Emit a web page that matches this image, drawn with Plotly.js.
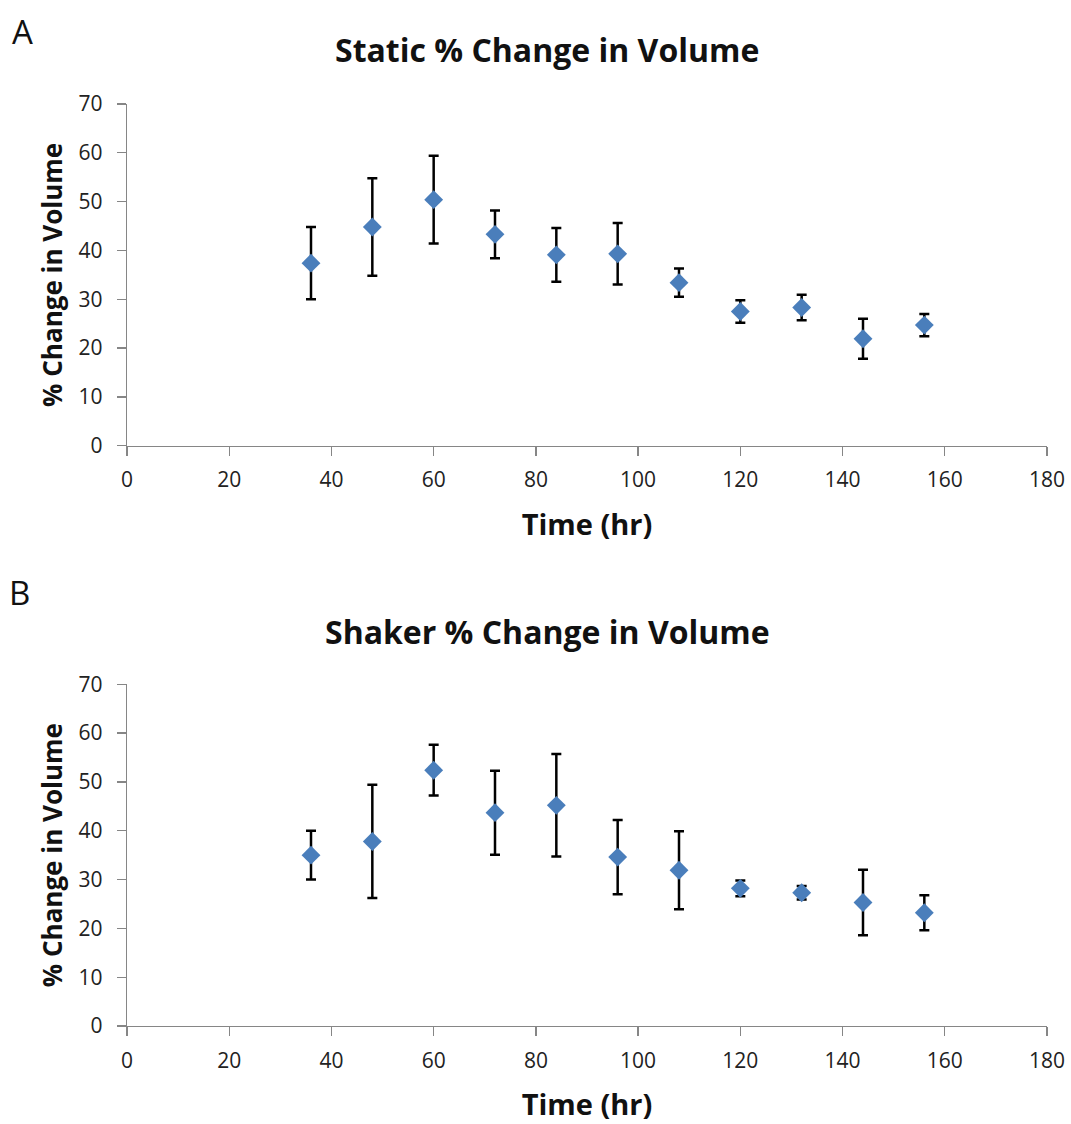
<!DOCTYPE html>
<html>
<head>
<meta charset="utf-8">
<script src="https://cdn.plot.ly/plotly-3.0.1.min.js"></script>
<style>
  html, body { margin: 0; padding: 0; background: #ffffff; }
  #chart { width: 1071px; height: 1124px; }
</style>
</head>
<body>
<div id="chart"></div>
<script>
// Sampling times (hours)
const timeHr = [36, 48, 60, 72, 84, 96, 108, 120, 132, 144, 156];

// Static culture: mean % change in volume and error
const staticMean = [37.4, 44.8, 50.4, 43.3, 39.1, 39.3, 33.4, 27.5, 28.3, 21.9, 24.7];
const staticErr  = [7.4, 10.0, 9.0, 4.9, 5.5, 6.3, 2.9, 2.3, 2.6, 4.1, 2.3];

// Shaker culture: mean % change in volume and error
const shakerMean = [35.0, 37.8, 52.4, 43.7, 45.2, 34.6, 31.9, 28.2, 27.3, 25.3, 23.2];
const shakerErr  = [5.0, 11.6, 5.2, 8.6, 10.5, 7.6, 8.0, 1.6, 1.4, 6.7, 3.6];

// Axis ticks
const xTicks = [0, 20, 40, 60, 80, 100, 120, 140, 160, 180];
const yTicks = [0, 10, 20, 30, 40, 50, 60, 70];

// Titles
const panelTitles = ['Static % Change in Volume', 'Shaker % Change in Volume'];
const panelLetters = ['A', 'B'];
const xTitle = 'Time (hr)';
const yTitle = '% Change in Volume';

const FONT = 'Open Sans, sans-serif';
const AXIS_GRAY = '#868686';
const MARKER_BLUE = '#4a7ebb';

function series(y, err, xa, ya) {
  return {
    type: 'scatter',
    mode: 'markers',
    x: timeHr,
    y: y,
    xaxis: xa,
    yaxis: ya,
    marker: { symbol: 'diamond', size: 14.5, color: MARKER_BLUE },
    error_y: { type: 'data', array: err, visible: true, color: '#000000', thickness: 2.5, width: 5 },
    showlegend: false,
    hoverinfo: 'x+y'
  };
}

function xAxis(anchor) {
  return {
    anchor: anchor,
    domain: [0, 1],
    range: [0, 180],
    tickmode: 'array',
    tickvals: xTicks,
    ticktext: xTicks.map(String),
    showgrid: false,
    zeroline: false,
    showline: true,
    linecolor: AXIS_GRAY,
    linewidth: 1.3,
    ticks: 'outside',
    ticklen: 9,
    tickwidth: 1.3,
    tickcolor: AXIS_GRAY,
    tickfont: { family: FONT, size: 21, color: '#222222' },
    ticklabelstandoff: 6,
    title: { text: xTitle, font: { family: FONT, size: 29, color: '#111111', weight: 'bold' }, standoff: 22 }
  };
}

function yAxis(anchor, domain) {
  return {
    anchor: anchor,
    domain: domain,
    range: [0, 70],
    tickmode: 'array',
    tickvals: yTicks,
    ticktext: yTicks.map(String),
    showgrid: false,
    zeroline: false,
    showline: true,
    linecolor: AXIS_GRAY,
    linewidth: 1.3,
    ticks: 'outside',
    ticklen: 9,
    tickwidth: 1.3,
    tickcolor: AXIS_GRAY,
    tickfont: { family: FONT, size: 21, color: '#222222' },
    ticklabelstandoff: 10,
    title: { text: yTitle, font: { family: FONT, size: 26, color: '#111111', weight: 'bold' }, standoff: 8 }
  };
}

const data = [
  series(staticMean, staticErr, 'x', 'y'),
  series(shakerMean, shakerErr, 'x2', 'y2')
];

const layout = {
  width: 1071,
  height: 1124,
  paper_bgcolor: '#ffffff',
  plot_bgcolor: '#ffffff',
  margin: { l: 127, r: 24, t: 104, b: 98 },
  font: { family: FONT },
  xaxis: xAxis('y'),
  yaxis: yAxis('x', [0.6294, 1]),
  xaxis2: xAxis('y2'),
  yaxis2: yAxis('x2', [0, 0.3706]),
  annotations: [
    { text: panelTitles[0], xref: 'paper', yref: 'paper', x: (547 - 127) / 920, y: 1 + (104 - 50) / 922,
      xanchor: 'center', yanchor: 'middle', showarrow: false,
      font: { family: FONT, size: 32, color: '#111111', weight: 'bold' } },
    { text: panelTitles[1], xref: 'paper', yref: 'paper', x: (547 - 127) / 920, y: (922 - (631 - 104)) / 922,
      xanchor: 'center', yanchor: 'middle', showarrow: false,
      font: { family: FONT, size: 32, color: '#111111', weight: 'bold' } },
    { text: panelLetters[0], xref: 'paper', yref: 'paper', x: (10 - 127) / 920, y: 1 + (104 - 31) / 922,
      xanchor: 'left', yanchor: 'middle', showarrow: false,
      font: { family: FONT, size: 33, color: '#111111' } },
    { text: panelLetters[1], xref: 'paper', yref: 'paper', x: (7 - 127) / 920, y: (922 - (592 - 104)) / 922,
      xanchor: 'left', yanchor: 'middle', showarrow: false,
      font: { family: FONT, size: 33, color: '#111111' } }
  ]
};

Plotly.newPlot('chart', data, layout, { displayModeBar: false, staticPlot: true });
</script>
</body>
</html>
